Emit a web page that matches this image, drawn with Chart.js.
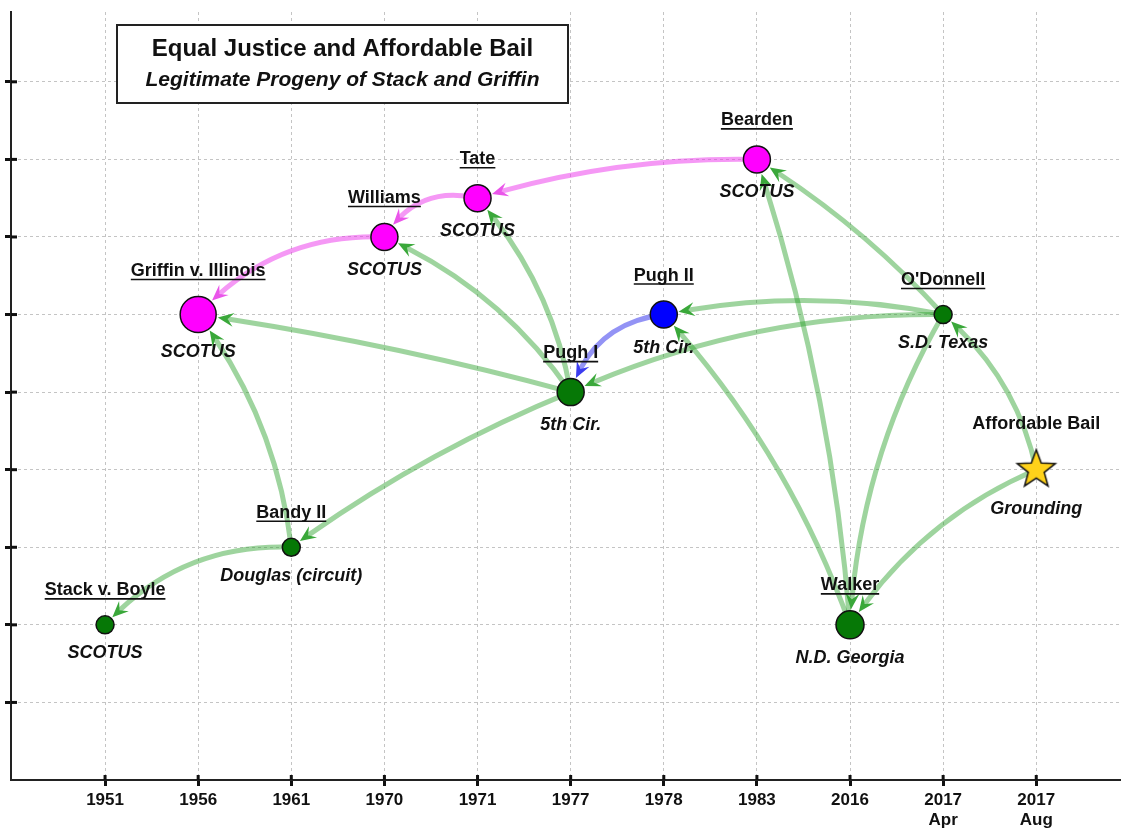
<!DOCTYPE html>
<html><head><meta charset="utf-8">
<script src="https://cdn.jsdelivr.net/npm/chart.js@4"></script>
<style>html,body{margin:0;padding:0;background:#fff}#wrap{width:1121px;height:831px}</style>
</head><body><div id="wrap"><canvas id="c" width="1121" height="831"></canvas></div>
<script>
// ---- data ----
const yearLabels = ['1951','1956','1961','1970','1971','1977','1978','1983','2016',['2017','Apr'],['2017','Aug']];
const caseNames = ['Stack v. Boyle','Griffin v. Illinois','Bandy II','Williams','Tate','Pugh I','Pugh II','Bearden','Walker',"O'Donnell",'Affordable Bail'];
const courtNames = ['SCOTUS','SCOTUS','Douglas (circuit)','SCOTUS','SCOTUS','5th Cir.','5th Cir.','SCOTUS','N.D. Georgia','S.D. Texas','Grounding'];
const caseLevels = [2,6,3,7,7.5,5,6,8,2,6,4];
const citeFrom = [2,2,5,5,5,5,6,3,4,7,9,9,9,8,8,9,10,10];
const citeTo   = [0,1,2,1,3,4,5,1,3,4,6,5,7,7,6,8,8,9];
const yTicks = [1,2,3,4,5,6,7,8,9];

// ---- styles ----
const nodeKind = ['g','m','g','m','m','g','b','m','g','g','s'];
const nodeRadius = [9,18,9,13.5,13.5,13.5,13.5,13.5,14,9,20];
const citeBend = [0.23,0.135,0.06,0.03,0.14,0.14,0.32,0.23,0.36,0.08,0.1,0.11,0.07,0.06,0.1,0.12,0.15,0.17];
const fillOf = {g:'#067806', m:'#ff00ff', b:'#0000ff', s:'#ffd21a'};
const lineOf = {g:'rgba(40,160,40,0.45)', m:'rgba(235,50,235,0.5)', b:'rgba(40,40,235,0.5)', s:'rgba(40,160,40,0.45)'};
const headOf = {g:'#3aa83a', m:'#ea55ea', b:'#3c3cf0', s:'#3aa83a'};
const FONT = '"Liberation Sans", Arial, Helvetica, sans-serif';

function makeStar(R){
  const s = Math.ceil(R*2+6), cv = document.createElement('canvas');
  cv.width = s; cv.height = s;
  const g = cv.getContext('2d'), c = s/2, r = R*0.42;
  g.beginPath();
  for (let k=0;k<10;k++){ const a=-Math.PI/2+k*Math.PI/5, rr=k%2?r:R; g.lineTo(c+rr*Math.cos(a), c+rr*Math.sin(a)); }
  g.closePath(); g.fillStyle = fillOf.s; g.fill(); g.lineWidth = 1.5; g.strokeStyle = '#111'; g.stroke();
  return cv;
}
const starImg = makeStar(20);

const dist = (a,b)=>Math.hypot(a.x-b.x,a.y-b.y);

const citationPlugin = {
  id:'citations',
  beforeDatasetsDraw(chart){
    const {ctx, scales:{x, y}, chartArea} = chart;
    ctx.save();
    // inner halves of the axis tick marks
    ctx.fillStyle = '#111';
    y.ticks.forEach(t => { const py = y.getPixelForValue(t.value); ctx.fillRect(chartArea.left, py-1.5, 6, 3); });
    x.ticks.forEach(t => { const px = x.getPixelForValue(t.value); ctx.fillRect(px-1.5, chartArea.bottom-5, 3, 5); });
    for (let k=0;k<citeFrom.length;k++){
      const a = citeFrom[k], b = citeTo[k];
      const P0 = {x:x.getPixelForValue(a), y:y.getPixelForValue(caseLevels[a])};
      const P2 = {x:x.getPixelForValue(b), y:y.getPixelForValue(caseLevels[b])};
      const dx = P2.x-P0.x, dy = P2.y-P0.y, bend = citeBend[k];
      const P1 = {x:(P0.x+P2.x)/2 - dy*bend, y:(P0.y+P2.y)/2 + dx*bend};
      const B = t => ({x:(1-t)*(1-t)*P0.x+2*(1-t)*t*P1.x+t*t*P2.x, y:(1-t)*(1-t)*P0.y+2*(1-t)*t*P1.y+t*t*P2.y});
      const rT = nodeRadius[b] + 1.5;
      let tTip = 1; while (tTip>0 && dist(B(tTip),P2) < rT) tTip -= 0.001;
      const tip = B(tTip);
      let tLine = tTip; while (tLine>0 && dist(B(tLine),tip) < 10) tLine -= 0.001;
      const E = B(tLine);
      const C1 = {x:P0.x+(P1.x-P0.x)*tLine, y:P0.y+(P1.y-P0.y)*tLine};
      const kind = nodeKind[a];
      ctx.beginPath(); ctx.moveTo(P0.x,P0.y); ctx.quadraticCurveTo(C1.x,C1.y,E.x,E.y);
      ctx.strokeStyle = lineOf[kind]; ctx.lineWidth = 5; ctx.lineCap = 'butt'; ctx.stroke();
      // arrow head
      let tb = tTip; while (tb>0 && dist(B(tb),tip) < 14) tb -= 0.001;
      const bk = B(tb); const L = dist(bk,tip) || 1;
      const u = {x:(tip.x-bk.x)/L, y:(tip.y-bk.y)/L}, n = {x:-u.y, y:u.x};
      const hl = 16, hw = 7, nt = 10;
      ctx.beginPath();
      ctx.moveTo(tip.x, tip.y);
      ctx.lineTo(tip.x-u.x*hl+n.x*hw, tip.y-u.y*hl+n.y*hw);
      ctx.lineTo(tip.x-u.x*nt, tip.y-u.y*nt);
      ctx.lineTo(tip.x-u.x*hl-n.x*hw, tip.y-u.y*hl-n.y*hw);
      ctx.closePath();
      ctx.fillStyle = headOf[kind]; ctx.fill();
    }
    ctx.restore();
  },
  afterDatasetsDraw(chart){
    const {ctx, scales:{x, y}} = chart;
    ctx.save();
    ctx.fillStyle = '#111'; ctx.strokeStyle = '#111'; ctx.textAlign = 'center'; ctx.textBaseline = 'alphabetic';
    for (let i=0;i<caseNames.length;i++){
      const px = x.getPixelForValue(i), py = y.getPixelForValue(caseLevels[i]), r = nodeRadius[i];
      ctx.font = 'bold 18px ' + FONT;
      const nb = py - r - 20.5;
      ctx.fillText(caseNames[i], px, nb);
      if (nodeKind[i] !== 's'){
        const w = ctx.measureText(caseNames[i]).width;
        ctx.lineWidth = 1.6; ctx.beginPath(); ctx.moveTo(px-w/2, nb+3.5); ctx.lineTo(px+w/2, nb+3.5); ctx.stroke();
      }
      ctx.font = 'italic bold 18px ' + FONT;
      ctx.fillText(courtNames[i], px, py + r + 24.5);
    }
    // title box
    ctx.lineWidth = 2; ctx.strokeStyle = '#222'; ctx.fillStyle = '#fff';
    ctx.fillRect(117,25,451,78); ctx.strokeRect(117,25,451,78);
    ctx.fillStyle = '#111';
    ctx.font = 'bold 24px ' + FONT; ctx.fillText('Equal Justice and Affordable Bail', 342.5, 56);
    ctx.font = 'italic bold 21px ' + FONT; ctx.fillText('Legitimate Progeny of Stack and Griffin', 342.5, 86);
    ctx.restore();
  }
};

new Chart(document.getElementById('c'), {
  type:'scatter',
  data:{ datasets:[{
    data: caseLevels.map((v,i)=>({x:i, y:v})),
    pointStyle: nodeKind.map(k => k==='s' ? starImg : 'circle'),
    pointRadius: nodeRadius,
    pointHoverRadius: nodeRadius,
    pointBackgroundColor: nodeKind.map(k=>fillOf[k]),
    pointBorderColor: '#111',
    pointBorderWidth: 1.5
  }]},
  options:{
    responsive:false, animation:false, devicePixelRatio:1,
    layout:{autoPadding:false, padding:{top:12, left:0, right:0, bottom:0}},
    plugins:{legend:{display:false}, tooltip:{enabled:false}},
    scales:{
      x:{ type:'linear', min:-1.01, max:10.91,
        afterBuildTicks: s => { s.ticks = yearLabels.map((_,i)=>({value:i})); },
        afterFit: s => { s.height = 51; },
        ticks:{ callback:(v)=>yearLabels[v], autoSkip:false, maxRotation:0, color:'#111', padding:4,
                font:{family:FONT, weight:'bold', size:17, lineHeight:1.2} },
        grid:{ color:'#c4c4c4', lineWidth:1, drawTicks:true, tickLength:6, tickWidth:3, tickColor:'#111' },
        border:{ display:true, color:'#222', width:2, dash:[3,3] }
      },
      y:{ type:'linear', min:0, max:9.9,
        afterBuildTicks: s => { s.ticks = yTicks.map(v=>({value:v})); },
        afterFit: s => { s.width = 11; },
        ticks:{ display:false },
        grid:{ color:'#c4c4c4', lineWidth:1, drawTicks:true, tickLength:6, tickWidth:3, tickColor:'#111' },
        border:{ display:true, color:'#222', width:2, dash:[3,3] }
      }
    }
  },
  plugins:[citationPlugin]
});
</script></body></html>
